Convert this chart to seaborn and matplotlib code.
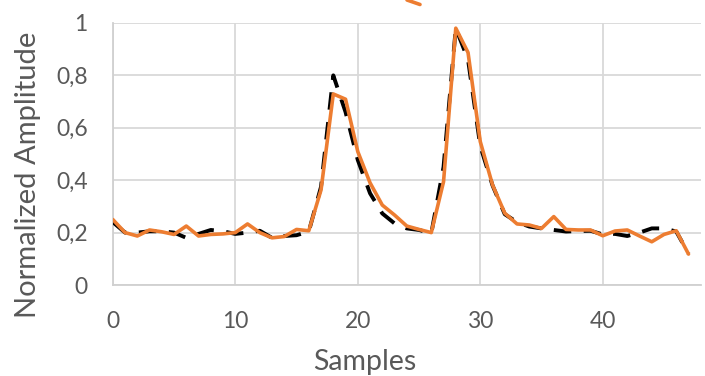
import matplotlib
matplotlib.use("Agg")
import matplotlib.pyplot as plt
from matplotlib.lines import Line2D
from matplotlib.ticker import FuncFormatter
import seaborn as sns
import pandas as pd
import numpy as np

samples = list(range(48))
reference = [0.24, 0.20, 0.20, 0.205, 0.205, 0.20, 0.18, 0.195, 0.21, 0.205,
             0.195, 0.20, 0.207, 0.18, 0.187, 0.19, 0.204, 0.375, 0.80, 0.66,
             0.477, 0.35, 0.273, 0.235, 0.216, 0.21, 0.197, 0.45, 0.98, 0.86,
             0.53, 0.38, 0.27, 0.24, 0.223, 0.216, 0.21, 0.204, 0.206, 0.207,
             0.193, 0.195, 0.187, 0.20, 0.216, 0.216, 0.204, 0.12]
measured = [0.25, 0.20, 0.187, 0.21, 0.203, 0.193, 0.225, 0.187, 0.193, 0.195,
            0.20, 0.233, 0.20, 0.18, 0.185, 0.212, 0.207, 0.363, 0.729, 0.709,
            0.509, 0.39, 0.305, 0.267, 0.225, 0.212, 0.20, 0.394, 0.98, 0.887,
            0.547, 0.382, 0.274, 0.233, 0.229, 0.216, 0.261, 0.212, 0.21, 0.21,
            0.188, 0.206, 0.21, 0.187, 0.165, 0.193, 0.207, 0.118]
x_ticks = [0, 10, 20, 30, 40]
y_ticks = [0, 0.2, 0.4, 0.6, 0.8, 1.0]

sns.set_theme(style="white")
plt.rcParams['font.family'] = ['Lato', 'DejaVu Sans']

fig = plt.figure(figsize=(7.05, 3.76), dpi=100)
ax = fig.add_axes([0.160, 0.242, 0.834, 0.697])

df_ref = pd.DataFrame({"Samples": samples, "Amp": reference})
df_mea = pd.DataFrame({"Samples": samples, "Amp": measured})

sns.lineplot(data=df_ref, x="Samples", y="Amp", ax=ax, color="black",
             linewidth=2.8, zorder=3)
ax.lines[-1].set_dashes([4.5, 3.2])
sns.lineplot(data=df_mea, x="Samples", y="Amp", ax=ax, color="#ED7D31",
             linewidth=2.6, zorder=4)

ax.set_xlim(0, 48)
ax.set_ylim(0, 1)
ax.set_xticks(x_ticks)
ax.set_yticks(y_ticks)
ax.yaxis.set_major_formatter(FuncFormatter(
    lambda v, p: "0" if v == 0 else ("1" if v == 1 else f"{v:.1f}".replace(".", ","))))
ax.grid(True, color="#D9D9D9", linewidth=1.3)
for s in ["top", "right"]:
    ax.spines[s].set_visible(False)
for s in ["left", "bottom"]:
    ax.spines[s].set_color("#D0D0D0")
    ax.spines[s].set_linewidth(1.3)
ax.tick_params(axis="both", length=0, labelsize=16.5, colors="#595959")
ax.tick_params(axis="x", pad=19)
ax.tick_params(axis="y", pad=18)
ax.set_xlabel("Samples", fontsize=20.5, color="#595959", va="center")
ax.set_ylabel("Normalized Amplitude", fontsize=21, color="#595959", va="center")
ax.xaxis.set_label_coords(0.4286, -0.292)
ax.yaxis.set_label_coords(-0.145, 0.42)

fig.add_artist(Line2D([407 / 705, 420 / 705], [1.0, 1 - 4.5 / 376],
                      transform=fig.transFigure, color="#ED7D31", linewidth=2.6))

fig.savefig("out.png", dpi=100)
